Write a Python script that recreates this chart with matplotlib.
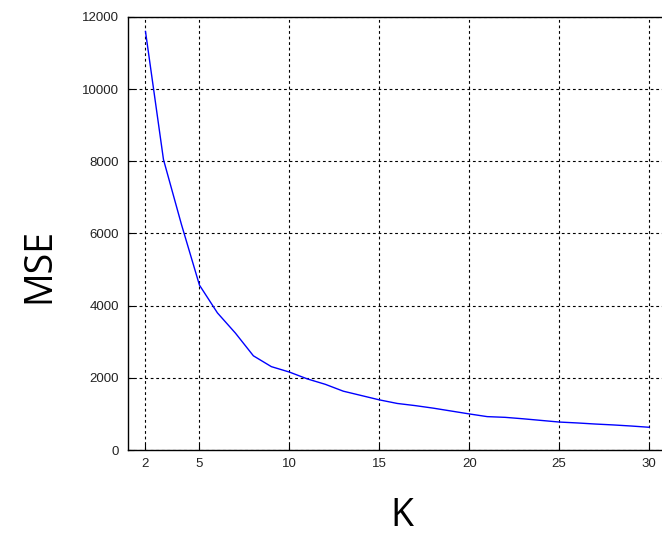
import matplotlib
matplotlib.use('Agg')
import matplotlib.pyplot as plt

k_values = list(range(2, 31))
mse_values = [11600, 8050, 6250, 4570, 3800, 3240, 2610, 2310, 2160, 1970,
              1820, 1630, 1510, 1390, 1290, 1230, 1160, 1080, 1000, 925,
              905, 865, 820, 775, 750, 720, 695, 665, 630]
x_ticks = [2, 5, 10, 15, 20, 25, 30]
y_ticks = [0, 2000, 4000, 6000, 8000, 10000, 12000]

fig = plt.figure(figsize=(6.62, 5.41), dpi=100)
# axes run past the right edge of the figure, so the right border is cut off
ax = fig.add_axes([0.1926, 0.1682, 0.8150, 0.8004])

ax.plot(k_values, mse_values, color='blue', linewidth=1.0)

ax.set_xlim(1, 31)
ax.set_ylim(0, 12000)
ax.set_xticks(x_ticks)
ax.set_yticks(y_ticks)
ax.grid(True, color='black', linestyle=(0, (2.5, 2.5)), linewidth=0.8)
ax.tick_params(direction='in', length=4, width=0.8, labelsize=9.5,
               labelcolor='#222222', pad=6)
for lbl in ax.get_xticklabels() + ax.get_yticklabels():
    lbl.set_family('Liberation Sans')
for s in ax.spines.values():
    s.set_linewidth(1.0)
ax.spines['right'].set_visible(False)

fig.text(0.06, 0.51, 'MSE', rotation=90, ha='center', va='center',
         fontsize=27, family='Open Sans')
fig.text(0.607, 0.046, 'K', ha='center', va='center',
         fontsize=27, family='Open Sans')

fig.savefig('out.png', dpi=100)
